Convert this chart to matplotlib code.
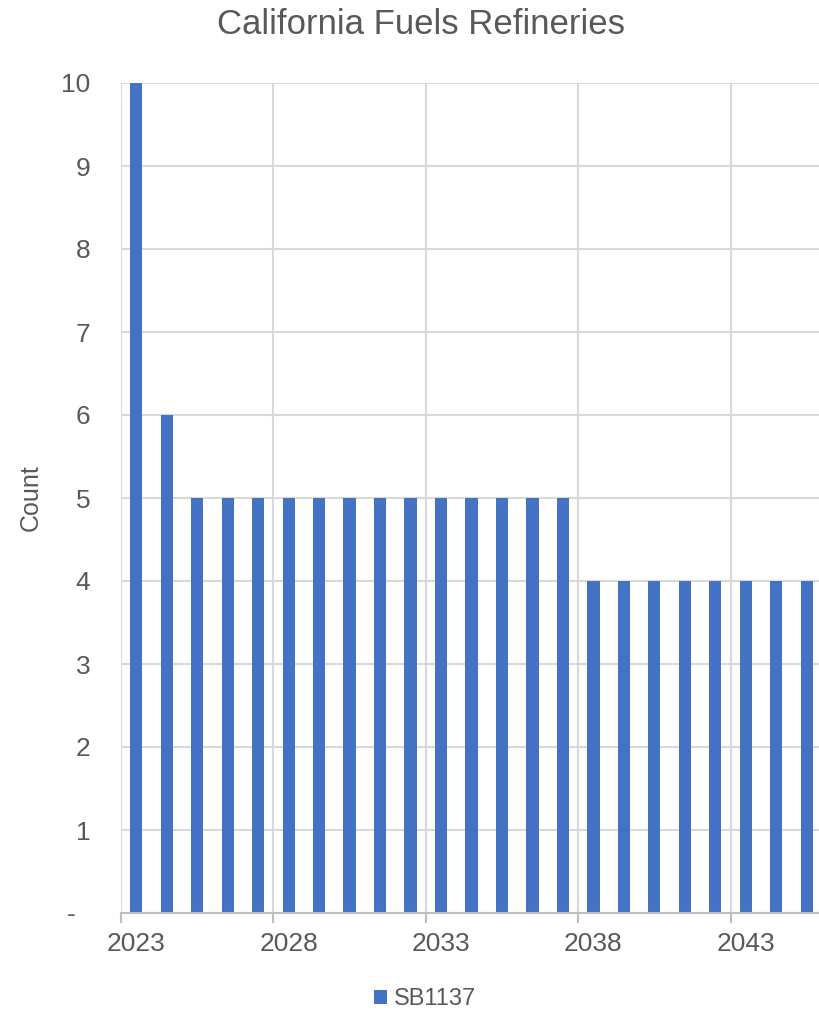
import matplotlib
matplotlib.use("Agg")
import matplotlib.pyplot as plt
import numpy as np

years = list(range(2023, 2046))
sb1137 = [10, 6] + [5] * 13 + [4] * 8
y_ticks = list(range(0, 11))
y_labels = ["-  "] + [str(v) for v in range(1, 11)]

text_color = "#595959"
grid_color = "#d9d9d9"
bar_color = "#4472c4"

plt.rcParams["font.family"] = ["Liberation Sans", "DejaVu Sans"]

fig = plt.figure(figsize=(8.19, 10.10), dpi=100)
ax = fig.add_axes([121 / 819, 97 / 1010, 701 / 819, 830 / 1010])

x = np.arange(len(years))
ax.bar(x, sb1137, width=0.4, color=bar_color, zorder=3, label="SB1137")

ax.set_xlim(-0.5, len(years) - 0.5)
ax.set_ylim(0, 10)

# category boundaries every 5 years carry gridlines and tick marks
bounds = np.arange(-0.5, len(years), 5)
ax.set_xticks(bounds)
ax.set_xticklabels([])
ax.tick_params(axis="x", length=7, width=1.5, color="#bfbfbf", direction="out")
label_pos = np.arange(0, len(years), 5)
for p in label_pos:
    ax.text(p, -0.37, str(years[p]), ha="center", va="center",
            fontsize=19, color=text_color, transform=ax.transData)

ax.set_yticks(y_ticks)
ax.set_yticklabels(y_labels)
ax.tick_params(axis="y", length=0, pad=22, labelsize=19, labelcolor=text_color)

ax.grid(True, color=grid_color, linewidth=1.5, zorder=0)
for side in ["top", "right", "left"]:
    ax.spines[side].set_visible(False)
ax.spines["bottom"].set_color("#bfbfbf")
ax.spines["bottom"].set_linewidth(1.5)
ax.spines["bottom"].set_zorder(4)

fig.text(31 / 819, 1 - 498 / 1010, "Count", rotation=90, ha="center", va="center",
         fontsize=18, color=text_color)
fig.text(421 / 819, 1 - 25 / 1010, "California Fuels Refineries", ha="center", va="center",
         fontsize=25, color=text_color)

leg = fig.legend(loc="center", bbox_to_anchor=(425 / 819, 1 - 999 / 1010), frameon=False,
                 fontsize=17, handlelength=0.55, handleheight=0.55, handletextpad=0.3,
                 labelcolor=text_color)

fig.savefig("out.png", dpi=100)
